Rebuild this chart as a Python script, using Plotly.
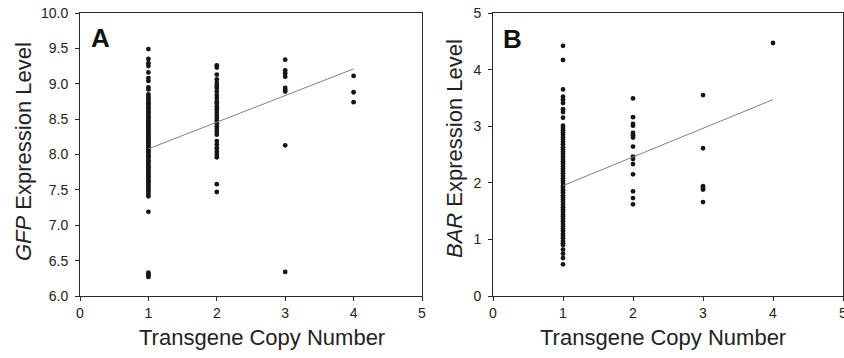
import plotly.graph_objects as go

# ---------------- data ----------------
copy_numbers = [1, 2, 3, 4]

gfp_copy1 = [9.49, 9.35, 9.29, 9.25, 9.16, 9.08, 9.04, 8.95, 8.92, 8.85, 8.82, 8.79, 8.77, 8.74,
             8.72, 8.70, 8.67, 8.65, 8.62, 8.60, 8.58, 8.55, 8.53, 8.51, 8.48, 8.46, 8.44, 8.41,
             8.39, 8.37, 8.34, 8.32, 8.30, 8.27, 8.25, 8.23, 8.20, 8.18, 8.16, 8.13, 8.11, 8.09,
             8.06, 8.04, 8.02, 7.99, 7.97, 7.95, 7.92, 7.90, 7.88, 7.85, 7.83, 7.81, 7.78, 7.76,
             7.74, 7.71, 7.69, 7.67, 7.64, 7.62, 7.60, 7.57, 7.55, 7.52, 7.50, 7.47, 7.44, 7.41,
             7.19, 6.33, 6.31, 6.29, 6.27]
gfp_copy2 = [9.26, 9.23, 9.13, 9.06, 9.01, 8.97, 8.94, 8.89, 8.84, 8.80, 8.75, 8.72, 8.68, 8.64,
             8.60, 8.56, 8.52, 8.48, 8.44, 8.40, 8.36, 8.32, 8.28, 8.19, 8.14, 8.09, 8.04, 8.00,
             7.96, 7.58, 7.47]
gfp_copy3 = [9.34, 9.19, 9.15, 9.10, 8.94, 8.91, 8.89, 8.13, 6.34]
gfp_copy4 = [9.11, 8.88, 8.74]
gfp_fit_x = [1, 4]
gfp_fit_y = [8.08, 9.21]

bar_copy1 = [4.42, 4.17, 3.65, 3.52, 3.47, 3.41, 3.30, 3.25, 3.15, 3.01,
             2.97, 2.93, 2.89, 2.85, 2.80, 2.76, 2.72, 2.68, 2.63, 2.59, 2.55, 2.51, 2.46, 2.42,
             2.38, 2.34, 2.29, 2.25, 2.21, 2.17, 2.12, 2.08, 2.04, 2.00, 1.95, 1.91, 1.87, 1.83,
             1.78, 1.74, 1.70, 1.66, 1.61, 1.57, 1.53, 1.49, 1.44, 1.40, 1.36, 1.32, 1.27, 1.23,
             1.19, 1.15, 1.10, 1.06, 1.02, 0.97, 0.93, 0.90, 0.82, 0.75, 0.67, 0.56]
bar_copy2 = [3.49, 3.16, 3.04, 3.01, 2.88, 2.84, 2.80, 2.64, 2.46, 2.42, 2.33, 2.15, 1.85, 1.73, 1.62]
bar_copy3 = [3.55, 2.61, 1.94, 1.91, 1.88, 1.66]
bar_copy4 = [4.47]
bar_fit_x = [1, 4]
bar_fit_y = [1.95, 3.47]

x_ticks = [0, 1, 2, 3, 4, 5]
gfp_ticks = [6.0, 6.5, 7.0, 7.5, 8.0, 8.5, 9.0, 9.5, 10.0]
bar_ticks = [0, 1, 2, 3, 4, 5]

# ---------------- figure ----------------
W, H = 844, 358
FONT = "Liberation Sans, Arial, sans-serif"
AXC = "#2a2a2a"

def px_x(p):
    return p / W

def px_y(p):
    return 1 - p / H

fig = go.Figure()

def add_panel(cols, fit_x, fit_y, xa, ya):
    xs, ys = [], []
    for c, vals in zip(copy_numbers, cols):
        xs += [c] * len(vals)
        ys += vals
    fig.add_trace(go.Scatter(x=xs, y=ys, mode="markers", xaxis=xa, yaxis=ya,
                             marker=dict(size=4.8, color="#161616", line=dict(width=0)),
                             showlegend=False, hoverinfo="skip"))
    fig.add_trace(go.Scatter(x=fit_x, y=fit_y, mode="lines", xaxis=xa, yaxis=ya,
                             line=dict(color="#808080", width=1),
                             showlegend=False, hoverinfo="skip"))

add_panel([gfp_copy1, gfp_copy2, gfp_copy3, gfp_copy4], gfp_fit_x, gfp_fit_y, "x", "y")
add_panel([bar_copy1, bar_copy2, bar_copy3, bar_copy4], bar_fit_x, bar_fit_y, "x2", "y2")

ydom = [px_y(296), px_y(13)]
common_axis = dict(showgrid=False, zeroline=False, showline=True, linecolor=AXC, linewidth=1,
                   mirror=True, ticks="outside", ticklen=4, tickcolor=AXC, tickwidth=1,
                   automargin=False, ticklabeloverflow="allow",
                   tickfont=dict(family=FONT, size=14, color="#222"))

fig.update_layout(
    width=W, height=H,
    margin=dict(l=0, r=0, t=0, b=0, autoexpand=False),
    paper_bgcolor="white", plot_bgcolor="white",
    xaxis=dict(domain=[px_x(80), px_x(422)], range=[0, 5], tickvals=x_ticks,
               anchor="y", **common_axis),
    yaxis=dict(domain=ydom, range=[6, 10], tickvals=gfp_ticks, tickformat=".1f",
               anchor="x", ticklabelstandoff=4, **common_axis),
    xaxis2=dict(domain=[px_x(493), px_x(843)], range=[0, 5], tickvals=x_ticks,
                anchor="y2", **common_axis),
    yaxis2=dict(domain=ydom, range=[0, 5], tickvals=bar_ticks,
                anchor="x2", ticklabelstandoff=4, **common_axis),
)

ann_font = dict(family=FONT, size=22, color="#222")
annotations = [
    dict(text="Transgene Copy Number", x=px_x(262), y=px_y(337)),
    dict(text="Transgene Copy Number", x=px_x(663), y=px_y(337)),
    dict(text="<i>GFP</i> Expression Level", x=px_x(23), y=px_y(152), textangle=-90),
    dict(text="<i>BAR</i> Expression Level", x=px_x(454), y=px_y(148), textangle=-90),
]
for a in annotations:
    fig.add_annotation(xref="paper", yref="paper", xanchor="center", yanchor="middle",
                       showarrow=False, font=ann_font, **a)

fig.add_annotation(xref="paper", yref="paper", x=px_x(100), y=px_y(38), text="<b>A</b>",
                   showarrow=False, xanchor="center", yanchor="middle",
                   font=dict(family=FONT, size=26, color="#111"))
fig.add_annotation(xref="paper", yref="paper", x=px_x(512), y=px_y(39), text="<b>B</b>",
                   showarrow=False, xanchor="center", yanchor="middle",
                   font=dict(family=FONT, size=26, color="#111"))

fig.write_html("out.html", config={"displayModeBar": False},
               post_script="document.body.style.margin='0px';document.body.style.overflow='hidden';")
